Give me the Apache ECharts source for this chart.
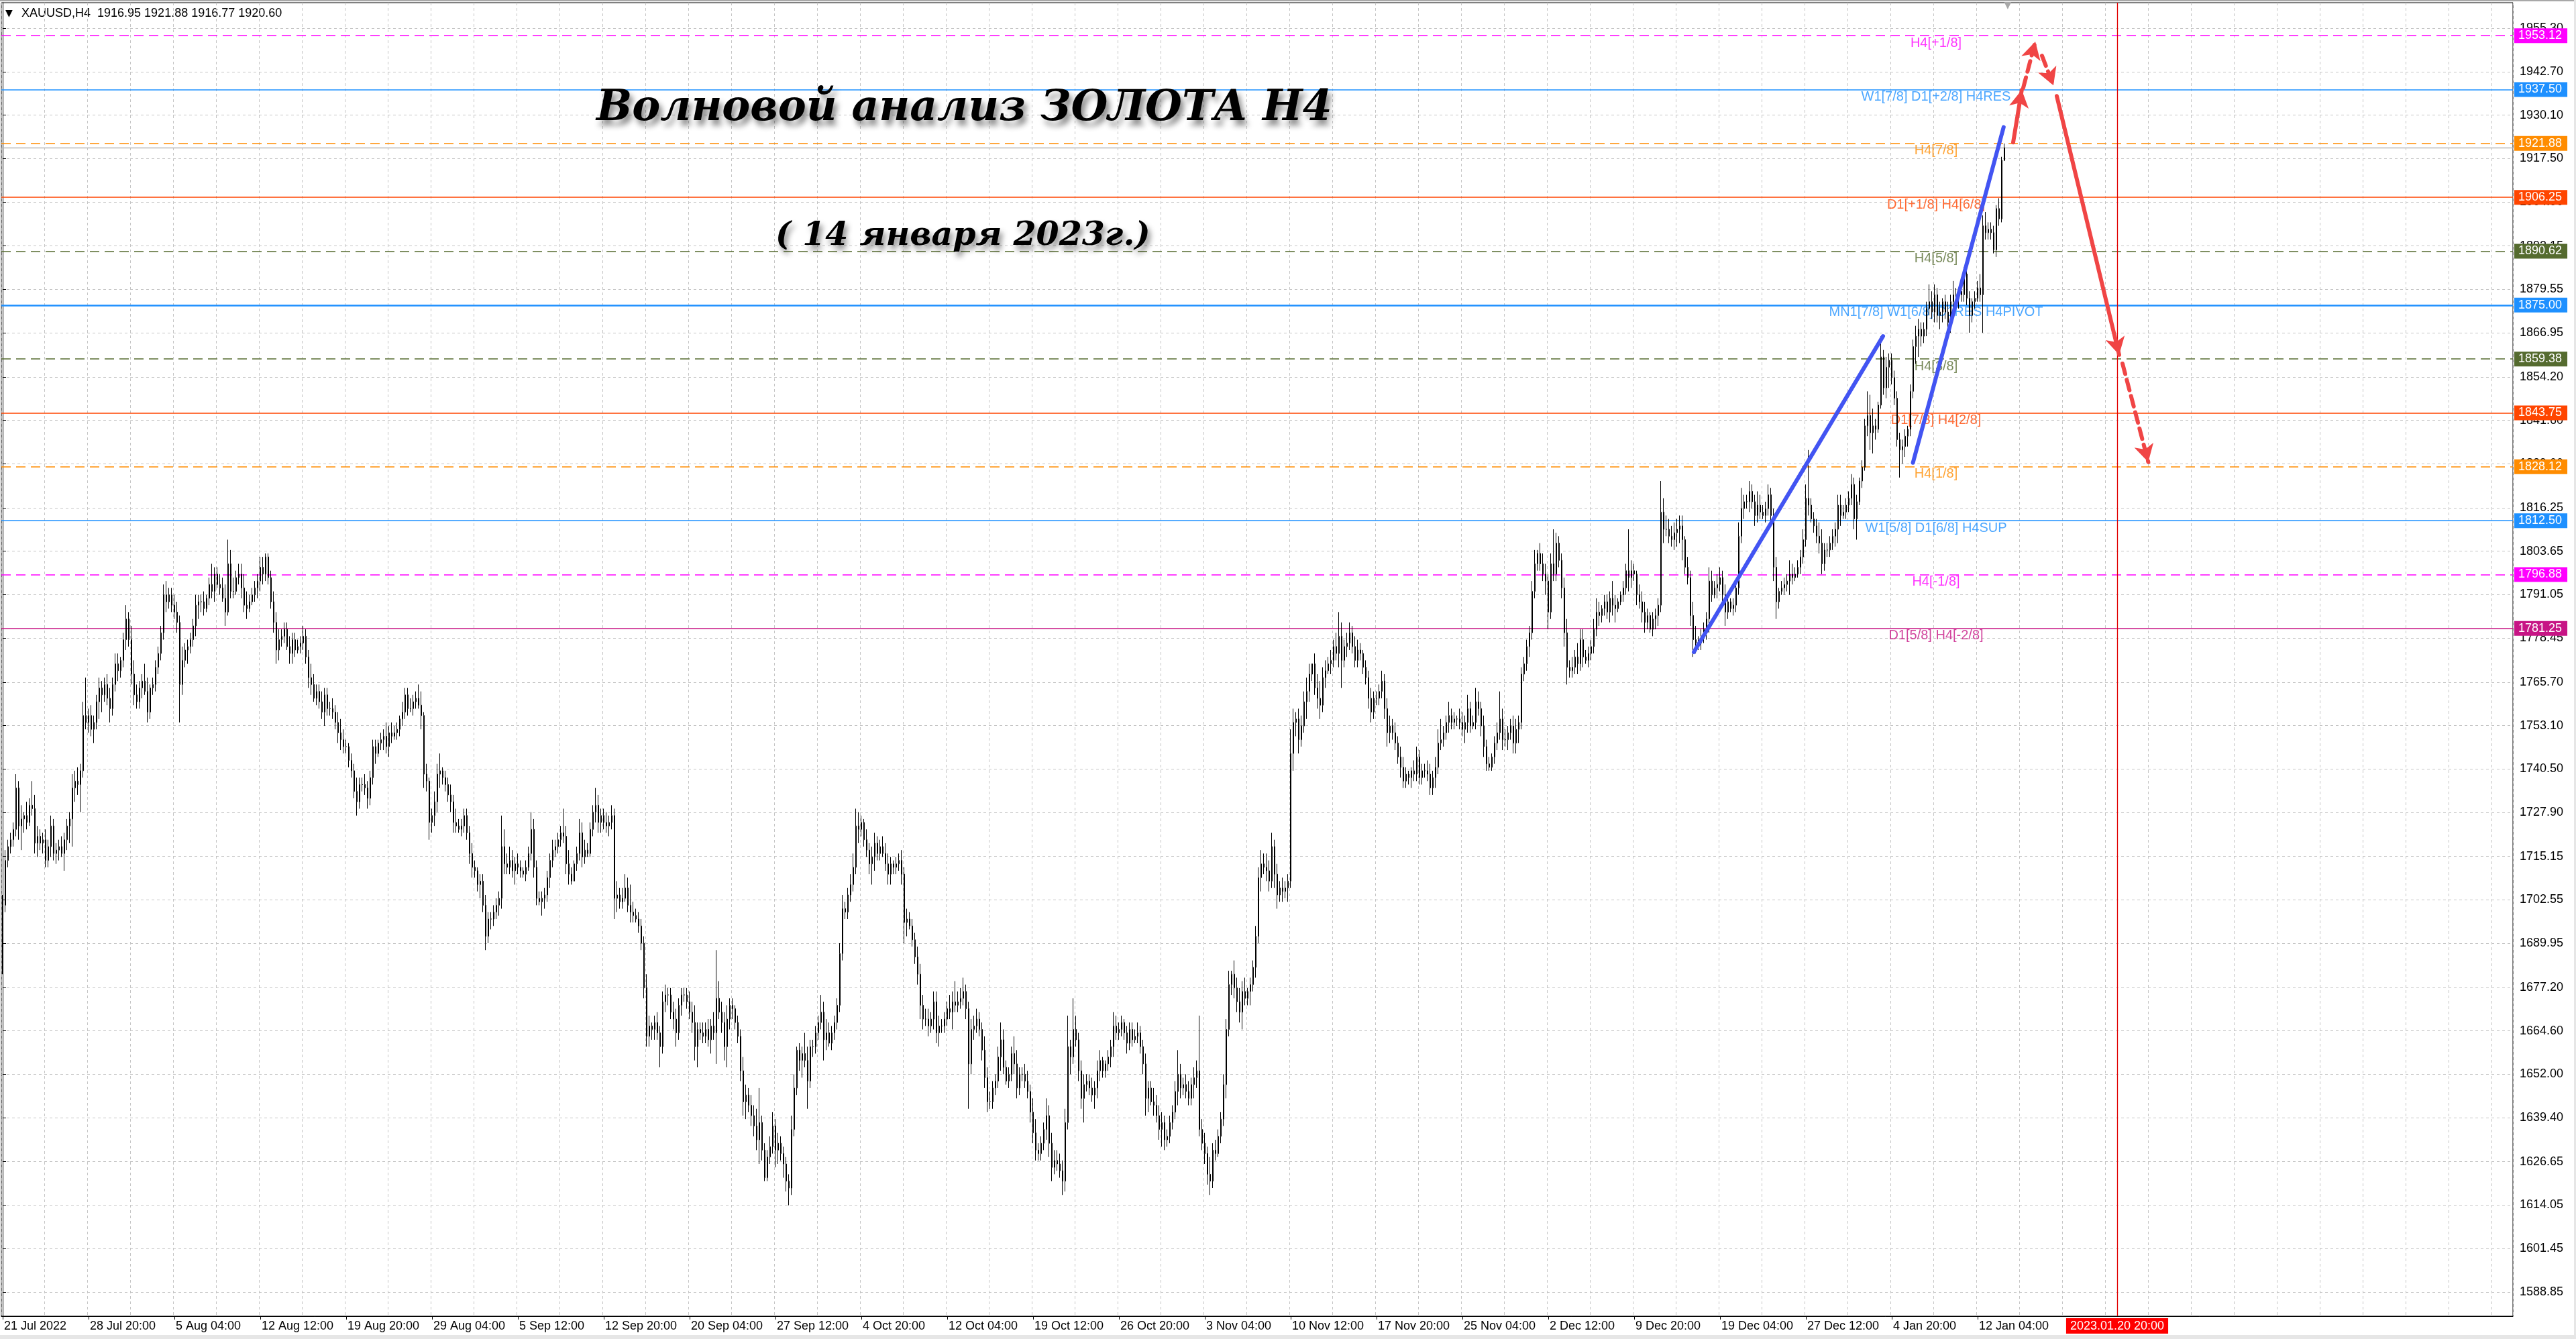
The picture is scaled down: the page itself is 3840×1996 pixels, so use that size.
<!DOCTYPE html>
<html><head><meta charset="utf-8">
<script src="https://cdn.jsdelivr.net/npm/echarts@6/dist/echarts.min.js"></script>
<style>html,body{margin:0;padding:0;background:#fff;}#chart{width:3840px;height:1996px;}</style>
</head><body><div id="chart"></div>
<script>
// ---------------- DATA ----------------
const symbolTitle = 'XAUUSD,H4';
const lastQuote = ['1916.95', '1921.88', '1916.77', '1920.60'];
// H4 candles: [open, high, low, close], one line per trading day
const candles = [
[1693,1704,1681,1701],[1701,1717,1699,1714],[1714,1720,1712,1718],
[1718,1722,1716,1720],[1720,1725,1718,1723],[1723,1739,1721,1735],[1735,1737,1720,1724],[1724,1730,1717,1726],[1726,1728,1722,1727],
[1727,1731,1723,1725],[1725,1732,1724,1730],[1730,1737,1727,1729],[1729,1733,1716,1719],[1719,1724,1715,1721],[1721,1723,1717,1719],
[1719,1722,1716,1720],[1720,1723,1712,1714],[1714,1720,1712,1718],[1718,1727,1715,1724],[1724,1726,1714,1716],[1716,1719,1713,1717],
[1717,1720,1714,1718],[1718,1721,1715,1716],[1716,1722,1711,1720],[1720,1726,1717,1724],[1724,1728,1719,1726],[1726,1739,1718,1735],
[1735,1740,1731,1737],[1737,1741,1733,1736],[1736,1742,1728,1740],[1740,1760,1738,1756],[1756,1767,1752,1754],[1754,1758,1751,1756],
[1756,1759,1750,1752],[1752,1756,1748,1754],[1754,1762,1752,1760],[1760,1767,1755,1764],[1764,1766,1757,1762],[1762,1767,1760,1765],
[1765,1768,1759,1761],[1761,1764,1754,1758],[1758,1767,1756,1765],[1765,1774,1763,1771],[1771,1774,1766,1769],[1769,1773,1767,1772],
[1772,1780,1770,1778],[1778,1788,1775,1784],[1784,1786,1776,1778],[1778,1782,1765,1768],[1768,1772,1759,1762],[1762,1765,1758,1760],
[1760,1766,1758,1764],[1764,1768,1761,1766],[1766,1771,1762,1763],[1763,1767,1754,1757],[1757,1765,1755,1764],[1764,1767,1762,1765],
[1765,1772,1763,1770],[1770,1776,1768,1774],[1774,1782,1772,1780],[1780,1794,1778,1791],[1791,1795,1786,1789],[1789,1793,1787,1791],
[1791,1793,1786,1788],[1788,1791,1784,1786],[1786,1789,1780,1783],[1783,1785,1754,1765],[1765,1776,1762,1772],[1772,1777,1770,1775],
[1775,1778,1771,1776],[1776,1780,1774,1778],[1778,1784,1776,1782],[1782,1791,1779,1788],[1788,1791,1784,1789],[1789,1791,1786,1789],
[1789,1792,1785,1787],[1787,1791,1786,1790],[1790,1796,1788,1794],[1794,1800,1790,1792],[1792,1799,1789,1797],[1797,1799,1793,1794],
[1794,1797,1791,1793],[1793,1796,1789,1790],[1790,1794,1782,1786],[1786,1807,1785,1800],[1800,1804,1790,1792],[1792,1796,1790,1792],
[1792,1798,1791,1796],[1796,1800,1794,1797],[1797,1800,1790,1793],[1793,1797,1786,1788],[1788,1792,1784,1787],[1787,1791,1786,1789],
[1789,1793,1788,1791],[1791,1795,1789,1793],[1793,1797,1790,1795],[1795,1802,1792,1799],[1799,1802,1794,1797],[1797,1803,1795,1802],
[1802,1803,1794,1796],[1796,1798,1787,1789],[1789,1792,1780,1783],[1783,1786,1771,1775],[1775,1781,1772,1778],[1778,1781,1776,1779],
[1779,1783,1777,1781],[1781,1783,1775,1776],[1776,1779,1771,1774],[1774,1780,1771,1778],[1778,1780,1773,1775],[1775,1778,1774,1776],
[1776,1779,1774,1777],[1777,1782,1775,1779],[1779,1781,1771,1773],[1773,1775,1764,1767],[1767,1771,1762,1765],[1765,1768,1760,1761],
[1761,1765,1759,1763],[1763,1765,1758,1760],[1760,1763,1755,1757],[1757,1764,1753,1762],[1762,1764,1756,1758],[1758,1760,1756,1758],
[1758,1761,1755,1757],[1757,1759,1752,1754],[1754,1757,1748,1751],[1751,1755,1746,1749],[1749,1752,1745,1747],[1747,1749,1745,1747],
[1747,1748,1741,1743],[1743,1745,1738,1740],[1740,1742,1732,1734],[1734,1738,1727,1731],[1731,1738,1729,1736],[1736,1738,1734,1736],
[1736,1739,1733,1735],[1735,1737,1729,1732],[1732,1740,1730,1738],[1738,1749,1736,1747],[1747,1749,1742,1745],[1745,1749,1744,1748],
[1748,1751,1746,1749],[1749,1752,1746,1750],[1750,1754,1745,1747],[1747,1753,1744,1751],[1751,1754,1748,1750],[1750,1753,1749,1751],
[1751,1754,1749,1752],[1752,1756,1750,1755],[1755,1760,1753,1757],[1757,1764,1755,1762],[1762,1764,1756,1758],[1758,1761,1757,1758],
[1758,1762,1756,1760],[1760,1763,1758,1761],[1761,1765,1758,1759],[1759,1763,1752,1756],[1756,1757,1735,1739],[1739,1742,1734,1737],
[1737,1738,1720,1725],[1725,1729,1722,1727],[1727,1734,1724,1731],[1731,1742,1728,1739],[1739,1745,1735,1740],[1740,1741,1736,1738],
[1738,1740,1734,1736],[1736,1738,1731,1733],[1733,1736,1728,1731],[1731,1733,1722,1725],[1725,1729,1722,1724],[1724,1726,1722,1723],
[1723,1726,1721,1724],[1724,1729,1722,1727],[1727,1729,1720,1722],[1722,1724,1713,1716],[1716,1719,1709,1712],[1712,1714,1709,1711],
[1711,1712,1705,1707],[1707,1710,1703,1708],[1708,1710,1699,1701],[1701,1704,1688,1692],[1692,1699,1690,1697],[1697,1699,1694,1697],
[1697,1701,1695,1699],[1699,1703,1697,1701],[1701,1705,1698,1703],[1703,1727,1700,1718],[1718,1723,1710,1713],[1713,1716,1710,1712],
[1712,1718,1710,1714],[1714,1717,1709,1711],[1711,1715,1707,1713],[1713,1716,1710,1712],[1712,1714,1709,1711],[1711,1712,1709,1710],
[1710,1714,1708,1712],[1712,1718,1711,1716],[1716,1728,1714,1723],[1723,1726,1709,1712],[1712,1714,1701,1703],[1703,1705,1701,1702],
[1702,1705,1698,1703],[1703,1706,1700,1704],[1704,1711,1702,1709],[1709,1716,1706,1714],[1714,1720,1712,1717],[1717,1720,1715,1718],
[1718,1722,1716,1720],[1720,1724,1718,1722],[1722,1729,1719,1721],[1721,1724,1710,1713],[1713,1717,1707,1710],[1710,1712,1707,1708],
[1708,1714,1708,1713],[1713,1718,1711,1716],[1716,1726,1714,1722],[1722,1725,1712,1715],[1715,1720,1713,1717],[1717,1719,1715,1716],
[1716,1725,1715,1723],[1723,1730,1721,1728],[1728,1735,1725,1730],[1730,1733,1722,1725],[1725,1729,1722,1727],[1727,1729,1723,1725],
[1725,1728,1722,1724],[1724,1727,1721,1725],[1725,1730,1723,1727],[1727,1729,1697,1703],[1703,1708,1699,1704],[1704,1706,1700,1702],
[1702,1706,1700,1703],[1703,1710,1702,1706],[1706,1709,1699,1701],[1701,1707,1696,1699],[1699,1702,1696,1698],[1698,1700,1696,1697],
[1697,1699,1693,1695],[1695,1697,1688,1690],[1690,1692,1674,1677],[1677,1681,1660,1663],[1663,1669,1660,1666],[1666,1667,1662,1665],
[1665,1669,1662,1667],[1667,1670,1662,1664],[1664,1666,1654,1660],[1660,1676,1658,1673],[1673,1678,1670,1675],[1675,1677,1672,1675],
[1675,1677,1668,1670],[1670,1673,1665,1668],[1668,1671,1660,1664],[1664,1674,1662,1672],[1672,1677,1669,1675],[1675,1677,1673,1675],
[1675,1677,1671,1673],[1673,1676,1668,1670],[1670,1673,1664,1667],[1667,1672,1656,1660],[1660,1667,1654,1665],[1665,1667,1662,1664],
[1664,1667,1661,1663],[1663,1667,1661,1665],[1665,1668,1660,1662],[1662,1668,1658,1666],[1666,1670,1662,1664],[1664,1688,1655,1674],
[1674,1679,1668,1670],[1670,1673,1664,1667],[1667,1670,1656,1660],[1660,1672,1654,1668],[1668,1674,1665,1672],[1672,1674,1668,1671],
[1671,1672,1665,1667],[1667,1669,1661,1663],[1663,1665,1650,1653],[1653,1657,1640,1644],[1644,1649,1639,1646],[1646,1648,1641,1643],
[1643,1646,1637,1640],[1640,1643,1634,1637],[1637,1642,1630,1633],[1633,1648,1626,1638],[1638,1640,1627,1630],[1630,1632,1621,1622],
[1622,1630,1621,1628],[1628,1634,1626,1631],[1631,1641,1629,1637],[1637,1639,1625,1630],[1630,1635,1626,1632],[1632,1634,1627,1629],
[1629,1631,1622,1626],[1626,1628,1618,1621],[1621,1623,1614,1619],[1619,1640,1617,1636],[1636,1652,1634,1648],[1648,1660,1646,1659],
[1659,1661,1653,1656],[1656,1660,1651,1658],[1658,1664,1654,1656],[1656,1660,1642,1650],[1650,1662,1648,1660],[1660,1662,1657,1660],
[1660,1666,1658,1664],[1664,1669,1662,1667],[1667,1675,1665,1670],[1670,1673,1656,1662],[1662,1668,1659,1664],[1664,1667,1660,1661],
[1661,1666,1659,1664],[1664,1669,1662,1667],[1667,1674,1665,1672],[1672,1690,1670,1687],[1687,1704,1685,1700],[1700,1702,1697,1699],
[1699,1706,1697,1704],[1704,1710,1702,1707],[1707,1716,1705,1712],[1712,1729,1710,1724],[1724,1728,1719,1723],[1723,1727,1721,1725],
[1725,1726,1718,1720],[1720,1723,1715,1717],[1717,1719,1710,1713],[1713,1718,1707,1715],[1715,1722,1711,1719],[1719,1721,1714,1716],
[1716,1720,1714,1718],[1718,1721,1715,1716],[1716,1719,1711,1713],[1713,1716,1707,1710],[1710,1715,1707,1713],[1713,1714,1710,1712],
[1712,1715,1710,1713],[1713,1716,1711,1714],[1714,1717,1707,1710],[1710,1712,1690,1696],[1696,1700,1692,1697],[1697,1699,1694,1695],
[1695,1697,1689,1691],[1691,1693,1684,1686],[1686,1689,1678,1681],[1681,1684,1668,1672],[1672,1675,1665,1668],[1668,1671,1666,1668],
[1668,1671,1663,1666],[1666,1670,1664,1668],[1668,1676,1665,1673],[1673,1676,1661,1664],[1664,1669,1660,1666],[1666,1668,1664,1666],
[1666,1670,1664,1668],[1668,1673,1666,1671],[1671,1675,1668,1670],[1670,1676,1665,1673],[1673,1679,1670,1672],[1672,1676,1670,1673],
[1673,1677,1671,1674],[1674,1680,1672,1676],[1676,1678,1668,1671],[1671,1673,1642,1655],[1655,1668,1652,1665],[1665,1669,1662,1666],
[1666,1671,1664,1668],[1668,1670,1663,1665],[1665,1667,1656,1659],[1659,1663,1648,1651],[1651,1654,1641,1644],[1644,1647,1642,1644],
[1644,1650,1642,1648],[1648,1652,1646,1650],[1650,1660,1648,1657],[1657,1667,1653,1662],[1662,1665,1652,1654],[1654,1656,1649,1650],
[1650,1654,1648,1652],[1652,1660,1650,1658],[1658,1663,1652,1655],[1655,1659,1645,1648],[1648,1654,1646,1652],[1652,1654,1650,1652],
[1652,1655,1648,1650],[1650,1653,1645,1647],[1647,1649,1638,1641],[1641,1645,1632,1635],[1635,1639,1627,1630],[1630,1632,1627,1629],
[1629,1634,1627,1632],[1632,1638,1630,1636],[1636,1645,1633,1640],[1640,1643,1628,1632],[1632,1635,1621,1625],[1625,1630,1623,1627],
[1627,1630,1624,1626],[1626,1629,1622,1624],[1624,1627,1617,1621],[1621,1642,1618,1638],[1638,1669,1636,1660],[1660,1662,1652,1657],
[1657,1674,1655,1665],[1665,1669,1660,1662],[1662,1664,1650,1653],[1653,1656,1642,1645],[1645,1652,1638,1649],[1649,1652,1647,1650],
[1650,1652,1646,1648],[1648,1651,1644,1646],[1646,1650,1642,1648],[1648,1656,1645,1653],[1653,1659,1650,1656],[1656,1657,1651,1653],
[1653,1656,1651,1655],[1655,1659,1653,1657],[1657,1662,1654,1660],[1660,1670,1657,1666],[1666,1669,1662,1664],[1664,1667,1662,1665],
[1665,1669,1663,1667],[1667,1668,1662,1664],[1664,1666,1658,1661],[1661,1667,1659,1665],[1665,1667,1660,1662],[1662,1665,1661,1663],
[1663,1667,1661,1664],[1664,1666,1658,1660],[1660,1662,1652,1655],[1655,1658,1640,1645],[1645,1650,1641,1648],[1648,1650,1643,1644],
[1644,1648,1640,1643],[1643,1646,1638,1640],[1640,1643,1633,1636],[1636,1641,1631,1638],[1638,1640,1630,1633],[1633,1636,1631,1634],
[1634,1640,1632,1638],[1638,1643,1636,1641],[1641,1650,1639,1647],[1647,1659,1643,1652],[1652,1655,1645,1648],[1648,1651,1646,1649],
[1649,1652,1645,1647],[1647,1650,1643,1645],[1645,1651,1643,1649],[1649,1654,1645,1651],[1651,1656,1648,1653],[1653,1669,1634,1636],
[1636,1639,1630,1632],[1632,1635,1626,1629],[1629,1631,1620,1623],[1623,1628,1617,1621],[1621,1632,1619,1630],[1630,1633,1627,1629],
[1629,1636,1628,1634],[1634,1641,1632,1639],[1639,1652,1637,1649],[1649,1668,1645,1665],[1665,1682,1663,1678],[1678,1682,1675,1681],
[1681,1685,1674,1677],[1677,1680,1670,1673],[1673,1677,1667,1670],[1670,1679,1665,1676],[1676,1680,1672,1674],[1674,1677,1672,1676],
[1676,1680,1672,1678],[1678,1685,1676,1683],[1683,1695,1680,1692],[1692,1712,1690,1709],[1709,1717,1705,1713],[1713,1716,1710,1712],
[1712,1716,1708,1711],[1711,1714,1705,1708],[1708,1722,1706,1718],[1718,1720,1706,1710],[1710,1713,1700,1704],[1704,1708,1702,1706],
[1706,1709,1702,1705],[1705,1708,1703,1706],[1706,1710,1702,1708],[1708,1752,1706,1745],[1745,1758,1740,1754],[1754,1757,1750,1755],
[1755,1758,1745,1749],[1749,1756,1747,1753],[1753,1763,1751,1760],[1760,1767,1755,1763],[1763,1771,1760,1768],[1768,1771,1766,1771],
[1771,1774,1762,1764],[1764,1768,1758,1761],[1761,1766,1755,1759],[1759,1770,1757,1767],[1767,1772,1764,1769],[1769,1773,1768,1771],
[1771,1775,1768,1772],[1772,1778,1770,1776],[1776,1780,1772,1774],[1774,1786,1770,1779],[1779,1783,1764,1772],[1772,1778,1770,1776],
[1776,1780,1773,1777],[1777,1783,1775,1780],[1780,1782,1774,1776],[1776,1779,1770,1772],[1772,1778,1770,1775],[1775,1777,1772,1774],
[1774,1775,1768,1770],[1770,1772,1765,1767],[1767,1769,1758,1761],[1761,1764,1754,1757],[1757,1763,1755,1761],[1761,1763,1759,1761],
[1761,1765,1759,1763],[1763,1769,1761,1766],[1766,1768,1755,1758],[1758,1761,1747,1751],[1751,1756,1748,1753],[1753,1755,1749,1751],
[1751,1754,1746,1748],[1748,1750,1742,1744],[1744,1747,1738,1741],[1741,1744,1735,1737],[1737,1741,1735,1739],[1739,1740,1736,1738],
[1738,1741,1735,1740],[1740,1743,1737,1739],[1739,1747,1737,1744],[1744,1746,1736,1738],[1738,1742,1736,1740],[1740,1742,1738,1740],
[1740,1743,1737,1739],[1739,1742,1733,1735],[1735,1740,1733,1738],[1738,1744,1735,1741],[1741,1752,1739,1748],[1748,1755,1746,1749],
[1749,1753,1747,1751],[1751,1756,1749,1754],[1754,1760,1751,1756],[1756,1758,1752,1754],[1754,1757,1752,1755],[1755,1756,1753,1755],
[1755,1758,1752,1754],[1754,1757,1750,1752],[1752,1756,1748,1754],[1754,1762,1751,1758],[1758,1760,1751,1753],[1753,1756,1752,1754],
[1754,1764,1752,1760],[1760,1763,1756,1758],[1758,1760,1750,1753],[1753,1756,1744,1747],[1747,1749,1740,1742],[1742,1744,1740,1741],
[1741,1745,1740,1744],[1744,1750,1742,1748],[1748,1754,1746,1751],[1751,1763,1749,1755],[1755,1758,1746,1749],[1749,1752,1747,1749],
[1749,1753,1746,1751],[1751,1755,1749,1753],[1753,1756,1745,1748],[1748,1755,1745,1752],[1752,1756,1748,1754],[1754,1770,1752,1768],
[1768,1773,1766,1771],[1771,1778,1769,1776],[1776,1782,1773,1780],[1780,1795,1778,1792],[1792,1804,1790,1800],[1800,1804,1798,1803],
[1803,1806,1798,1800],[1800,1803,1795,1797],[1797,1800,1791,1795],[1795,1797,1781,1786],[1786,1803,1784,1800],[1800,1810,1795,1797],
[1797,1809,1795,1806],[1806,1808,1799,1801],[1801,1803,1790,1793],[1793,1796,1776,1780],[1780,1784,1765,1770],[1770,1772,1767,1769],
[1769,1773,1767,1770],[1770,1775,1768,1773],[1773,1777,1768,1771],[1771,1781,1769,1778],[1778,1781,1770,1773],[1773,1775,1771,1772],
[1772,1776,1770,1774],[1774,1778,1772,1776],[1776,1784,1774,1781],[1781,1790,1779,1786],[1786,1789,1782,1785],[1785,1788,1783,1787],
[1787,1791,1785,1789],[1789,1791,1784,1786],[1786,1792,1783,1790],[1790,1795,1785,1788],[1788,1791,1783,1787],[1787,1790,1786,1789],
[1789,1792,1788,1791],[1791,1795,1789,1793],[1793,1800,1791,1798],[1798,1810,1792,1796],[1796,1801,1793,1798],[1798,1800,1795,1797],
[1797,1798,1788,1791],[1791,1794,1787,1789],[1789,1792,1783,1786],[1786,1789,1780,1783],[1783,1787,1781,1785],[1785,1786,1780,1781],
[1781,1786,1779,1784],[1784,1787,1781,1785],[1785,1790,1782,1788],[1788,1824,1786,1815],[1815,1819,1806,1810],[1810,1814,1808,1810],
[1810,1813,1806,1808],[1808,1811,1805,1807],[1807,1812,1804,1809],[1809,1813,1805,1810],[1810,1814,1806,1811],[1811,1814,1801,1807],
[1807,1808,1797,1799],[1799,1802,1794,1796],[1796,1798,1782,1785],[1785,1789,1773,1778],[1778,1782,1774,1777],[1777,1779,1775,1777],
[1777,1781,1775,1779],[1779,1783,1777,1781],[1781,1786,1778,1784],[1784,1799,1780,1795],[1795,1798,1789,1791],[1791,1795,1790,1793],
[1793,1797,1790,1794],[1794,1799,1792,1796],[1796,1798,1789,1791],[1791,1794,1782,1786],[1786,1791,1784,1789],[1789,1790,1786,1787],
[1787,1790,1785,1788],[1788,1795,1786,1793],[1793,1812,1791,1808],[1808,1822,1806,1816],[1816,1820,1813,1818],[1818,1820,1816,1818],
[1818,1824,1815,1821],[1821,1823,1816,1818],[1818,1820,1811,1814],[1814,1821,1812,1817],[1817,1820,1813,1815],[1815,1817,1813,1814],
[1814,1818,1812,1816],[1816,1823,1814,1820],[1820,1822,1812,1814],[1814,1816,1795,1799],[1799,1802,1784,1789],[1789,1793,1787,1792],
[1792,1795,1791,1793],[1793,1796,1791,1794],[1794,1797,1792,1795],[1795,1801,1791,1797],[1797,1800,1794,1796],[1796,1799,1795,1797],
[1797,1801,1796,1799],[1799,1804,1797,1802],[1802,1810,1800,1807],[1807,1823,1805,1819],[1819,1833,1814,1817],[1817,1819,1812,1813],
[1813,1815,1809,1811],[1811,1813,1806,1808],[1808,1812,1803,1806],[1806,1810,1797,1800],[1800,1806,1798,1804],[1804,1806,1802,1804],
[1804,1808,1802,1806],[1806,1810,1804,1808],[1808,1812,1805,1810],[1810,1820,1806,1817],[1817,1820,1811,1814],[1814,1817,1813,1815],
[1815,1819,1813,1817],[1817,1821,1815,1819],[1819,1826,1817,1823],[1823,1825,1810,1813],[1813,1820,1807,1818],[1818,1825,1817,1824],
[1824,1830,1822,1828],[1828,1842,1827,1840],[1840,1850,1837,1843],[1843,1849,1833,1838],[1838,1845,1832,1840],[1840,1842,1836,1839],
[1839,1847,1838,1846],[1846,1866,1845,1860],[1860,1862,1849,1851],[1851,1860,1848,1857],[1857,1861,1851,1859],[1859,1861,1852,1854],
[1854,1856,1846,1848],[1848,1850,1834,1836],[1836,1838,1825,1833],[1833,1836,1829,1834],[1834,1839,1831,1837],[1837,1840,1834,1839],
[1839,1852,1837,1850],[1850,1865,1848,1863],[1863,1869,1858,1866],[1866,1871,1860,1868],[1868,1870,1863,1866],[1866,1870,1864,1868],
[1868,1876,1866,1874],[1874,1881,1872,1876],[1876,1879,1871,1873],[1873,1881,1870,1878],[1878,1880,1870,1872],[1872,1876,1868,1873],
[1873,1877,1870,1876],[1876,1878,1871,1873],[1873,1876,1867,1870],[1870,1878,1867,1876],[1876,1882,1873,1878],[1878,1880,1874,1877],
[1877,1880,1874,1879],[1879,1883,1876,1878],[1878,1886,1876,1884],[1884,1885,1875,1877],[1877,1879,1867,1872],[1872,1877,1870,1876],
[1876,1879,1874,1877],[1877,1882,1876,1880],[1880,1884,1876,1878],[1878,1901,1867,1898],[1898,1902,1894,1896],[1896,1899,1894,1897],
[1897,1899,1894,1896],[1896,1898,1890,1891],[1891,1904,1889,1903],[1903,1906,1898,1900],[1900,1918,1899,1917],[1916.95,1921.88,1916.77,1920.60]
];
const firstBarTime = '2022-07-21T12:00:00Z';
const closedDays = ['2022-12-26', '2023-01-02'];
const futureSlots = 189;
const xTickLabels = ['21 Jul 2022','28 Jul 20:00','5 Aug 04:00','12 Aug 12:00','19 Aug 20:00','29 Aug 04:00','5 Sep 12:00','12 Sep 20:00','20 Sep 04:00','27 Sep 12:00','4 Oct 20:00','12 Oct 04:00','19 Oct 12:00','26 Oct 20:00','3 Nov 04:00','10 Nov 12:00','17 Nov 20:00','25 Nov 04:00','2 Dec 12:00','9 Dec 20:00','19 Dec 04:00','27 Dec 12:00','4 Jan 20:00','12 Jan 04:00'];
const yTickValues = [1955.30,1942.70,1930.10,1917.50,1904.90,1892.15,1879.55,1866.95,1854.20,1841.60,1829.00,1816.25,1803.65,1791.05,1778.45,1765.70,1753.10,1740.50,1727.90,1715.15,1702.55,1689.95,1677.20,1664.60,1652.00,1639.40,1626.65,1614.05,1601.45,1588.85];
const levelValues = [1953.12,1937.50,1921.88,1906.25,1890.62,1875.00,1859.38,1843.75,1828.12,1812.50,1796.88,1781.25];
const levelNames = ['H4[+1/8]','W1[7/8] D1[+2/8] H4RES','H4[7/8]','D1[+1/8] H4[6/8]','H4[5/8]','MN1[7/8] W1[6/8] D1RES H4PIVOT','H4[3/8]','D1[7/8] H4[2/8]','H4[1/8]','W1[5/8] D1[6/8] H4SUP','H4[-1/8]','D1[5/8] H4[-2/8]'];
const bidPrice = 1920.60;
const forecastTime = '2023.01.20 20:00';
// hand-drawn wave lines: [barIndex, price]
const waveLines = [
  [[630.25, 1774.4], [700.75, 1866.0]],
  [[711.9, 1829.3], [745.7, 1926.6]]
];
// forecast arrows: from/to [barIndex, price]
const forecastArrows = [
  {from: [749.25, 1922.2], to: [752.45, 1937.4], dashed: false},
  {from: [753.0, 1938.0], to: [757.5, 1951.4], dashed: true},
  {from: [760.0, 1947.3], to: [764.25, 1938.7], dashed: true},
  {from: [765.5, 1935.6], to: [788.75, 1860.6], dashed: false},
  {from: [790.0, 1858.05], to: [799.6, 1829.5], dashed: true}
];
const titleText = 'Волновой анализ ЗОЛОТА Н4';
const subtitleText = '( 14 января 2023г.)';

// ---------------- STYLES ----------------
const levelColors = ['#FF00FF','#1E90FF','#FF8C00','#FF4500','#556B2F','#1E90FF','#556B2F','#FF4500','#FF8C00','#1E90FF','#FF00FF','#C71585'];
const levelDashed = [true,false,true,false,true,false,true,false,true,false,true,false];
const levelWidths = [1.5,1.5,1.5,1.5,1.5,2.5,1.5,1.5,1.5,1.5,1.5,1.5];
const levelLabelBar = 720.5;
const Y_MIN = 1581.85, Y_MAX = 1962.69;
const FONT = '"Liberation Sans", Arial, sans-serif';

// ---------------- CATEGORIES ----------------
function pad(n){return (n<10?'0':'')+n;}
function fmt(d){return d.getUTCFullYear()+'.'+pad(d.getUTCMonth()+1)+'.'+pad(d.getUTCDate())+' '+pad(d.getUTCHours())+':'+pad(d.getUTCMinutes());}
const categories = [];
let t = Date.parse(firstBarTime);
const H4 = 4*3600*1000;
while (categories.length < candles.length) {
  const d = new Date(t);
  const wd = d.getUTCDay();
  const ds = d.toISOString().slice(0,10);
  if (wd !== 0 && wd !== 6 && closedDays.indexOf(ds) < 0) categories.push(fmt(d));
  t += H4;
}
for (let i = 0; i < futureSlots; i++) { categories.push(fmt(new Date(t))); t += H4; }
const forecastIndex = categories.indexOf(forecastTime);
const nCat = categories.length;
const lastLabelIdx = (xTickLabels.length - 1) * 32;
const isLabelIdx = (i) => i % 32 === 0 && i <= lastLabelIdx;

// ---------------- CHART ----------------
const chart = echarts.init(document.getElementById('chart'), null, {renderer: 'canvas', width: 3840, height: 1996});
const gridLine = {color: '#c4c4c4', type: [4, 4], width: 1};

const option = {
  animation: false,
  backgroundColor: '#ffffff',
  grid: {left: 2, right: 94, top: 4, bottom: 34, show: true, borderColor: '#000', borderWidth: 1, backgroundColor: 'transparent'},
  xAxis: [{
    type: 'category', data: categories, boundaryGap: true,
    axisLine: {show: true, lineStyle: {color: '#000', width: 1}},
    axisTick: {show: true, alignWithLabel: true, length: 5, interval: isLabelIdx, lineStyle: {color: '#000'}},
    axisLabel: {interval: isLabelIdx, formatter: (v, i) => xTickLabels[i / 32], align: 'left', margin: 6, color: '#000', fontSize: 18, fontFamily: FONT, padding: [0,0,0,2]},
    splitLine: {show: true, interval: (i) => i % 16 === 0, lineStyle: gridLine}
  }, {
    type: 'value', min: -0.5, max: nCat - 0.5, show: false
  }],
  yAxis: [{
    type: 'value', position: 'right', min: Y_MIN, max: Y_MAX,
    axisLine: {show: true, lineStyle: {color: '#000'}},
    axisTick: {show: true, length: 5, customValues: yTickValues, lineStyle: {color: '#000'}},
    axisLabel: {customValues: yTickValues, formatter: (v) => Number(v).toFixed(2), color: '#000', fontSize: 18, fontFamily: FONT, margin: 10},
    splitLine: {show: true, customValues: yTickValues, lineStyle: gridLine}
  }],
  series: [
    {
      type: 'candlestick', name: 'XAUUSD', xAxisIndex: 0, yAxisIndex: 0, z: 3, silent: true,
      large: false, barWidth: 2,
      data: candles.map(c => [c[0], c[3], c[2], c[1]]),
      itemStyle: {color: '#ffffff', color0: '#000000', borderColor: '#000000', borderColor0: '#000000', borderWidth: 1}
    },
    {
      type: 'line', name: 'levels', xAxisIndex: 1, yAxisIndex: 0, data: [], z: 2, silent: true,
      markLine: {
        silent: true, z: 2, symbol: ['none', 'none'], animation: false,
        data: levelValues.map((v, i) => ({
          yAxis: v,
          lineStyle: {color: levelColors[i], width: levelWidths[i], type: levelDashed[i] ? [14, 8] : 'solid', opacity: 1},
          label: {show: true, position: 'end', formatter: v.toFixed(2), color: '#fff', backgroundColor: levelColors[i],
                  fontSize: 18, fontFamily: FONT, padding: [2, 8, 1, 6], lineHeight: 19, distance: 2}
        })).concat([{yAxis: bidPrice, lineStyle: {color: '#b8b8b8', width: 1.3, type: 'solid'}, label: {show: false}}])
      }
    },
    {
      type: 'scatter', name: 'levelNames', xAxisIndex: 1, yAxisIndex: 0, z: 2, silent: true, symbolSize: 0,
      data: levelValues.map((v, i) => ({value: [levelLabelBar, v], name: levelNames[i], label: {color: levelColors[i]}})),
      label: {show: true, position: 'bottom', distance: 1, formatter: '{b}', fontSize: 20, fontFamily: FONT}
    },
    {
      type: 'line', name: 'forecastTime', xAxisIndex: 1, yAxisIndex: 0, data: [], z: 2, silent: true,
      markLine: {
        silent: true, z: 2, symbol: ['none', 'none'],
        data: [{xAxis: forecastIndex, lineStyle: {color: '#e00000', width: 1.3, type: 'solid'},
          label: {show: true, position: 'start', formatter: forecastTime, color: '#fff', backgroundColor: '#ff0000',
                  fontSize: 18, fontFamily: FONT, padding: [3, 6, 2, 6], distance: 3}}]
      }
    }
  ].concat(waveLines.map((seg, k) => ({
      type: 'line', name: 'wave' + k, xAxisIndex: 1, yAxisIndex: 0, data: seg, z: 5, silent: true,
      symbol: 'none', showSymbol: false,
      lineStyle: {color: '#4254F2', width: 6, cap: 'round'}
  }))).concat([{
      type: 'line', name: 'arrows', xAxisIndex: 1, yAxisIndex: 0, data: [], z: 6, silent: true,
      markLine: {
        silent: true, z: 6, symbol: ['none', 'arrow'], symbolSize: [22, 26],
        data: forecastArrows.map(a => [
          {coord: a.from, lineStyle: {color: '#F04545', width: 6, type: a.dashed ? [16, 9] : 'solid', cap: 'round'}},
          {coord: a.to}
        ]),
        label: {show: false}
      }
  }]),
  graphic: [
    {type: 'rect', silent: true, shape: {x: 0, y: 0, width: 3840, height: 2}, style: {fill: '#a8a8a8'}},
    {type: 'rect', silent: true, shape: {x: 0, y: 1990, width: 3840, height: 6}, style: {fill: '#e6e6e6'}},
    {type: 'rect', silent: true, shape: {x: 3837, y: 0, width: 3, height: 1996}, style: {fill: '#e6e6e6'}},
    {type: 'text', silent: true, x: 8, y: 20, style: {text: '▼', font: '14px "DejaVu Sans"', fill: '#000', textVerticalAlign: 'middle', verticalAlign: 'middle'}},
    {type: 'text', silent: true, x: 32, y: 20, style: {text: symbolTitle + '  ' + lastQuote.join(' '), font: '18px ' + FONT, fill: '#000', textVerticalAlign: 'middle', verticalAlign: 'middle'}},
    {type: 'text', silent: true, x: 2993, y: 8, style: {text: '▼', font: '14px "DejaVu Sans"', fill: '#a8a8a8', textAlign: 'center', align: 'center', textVerticalAlign: 'middle', verticalAlign: 'middle'}},
    {type: 'text', silent: true, x: 889, y: 163, z: 10, style: {text: titleText, font: 'italic bold 63px "DejaVu Serif"', fill: '#000',
      textVerticalAlign: 'middle', verticalAlign: 'middle', textShadowColor: 'rgba(0,0,0,0.45)', textShadowBlur: 8, textShadowOffsetX: 5, textShadowOffsetY: 8}},
    {type: 'text', silent: true, x: 1156, y: 352, z: 10, style: {text: subtitleText, font: 'italic bold 49px "DejaVu Serif"', fill: '#000',
      textVerticalAlign: 'middle', verticalAlign: 'middle', textShadowColor: 'rgba(0,0,0,0.45)', textShadowBlur: 8, textShadowOffsetX: 4, textShadowOffsetY: 7}}
  ]
};
chart.setOption(option);
</script></body></html>
